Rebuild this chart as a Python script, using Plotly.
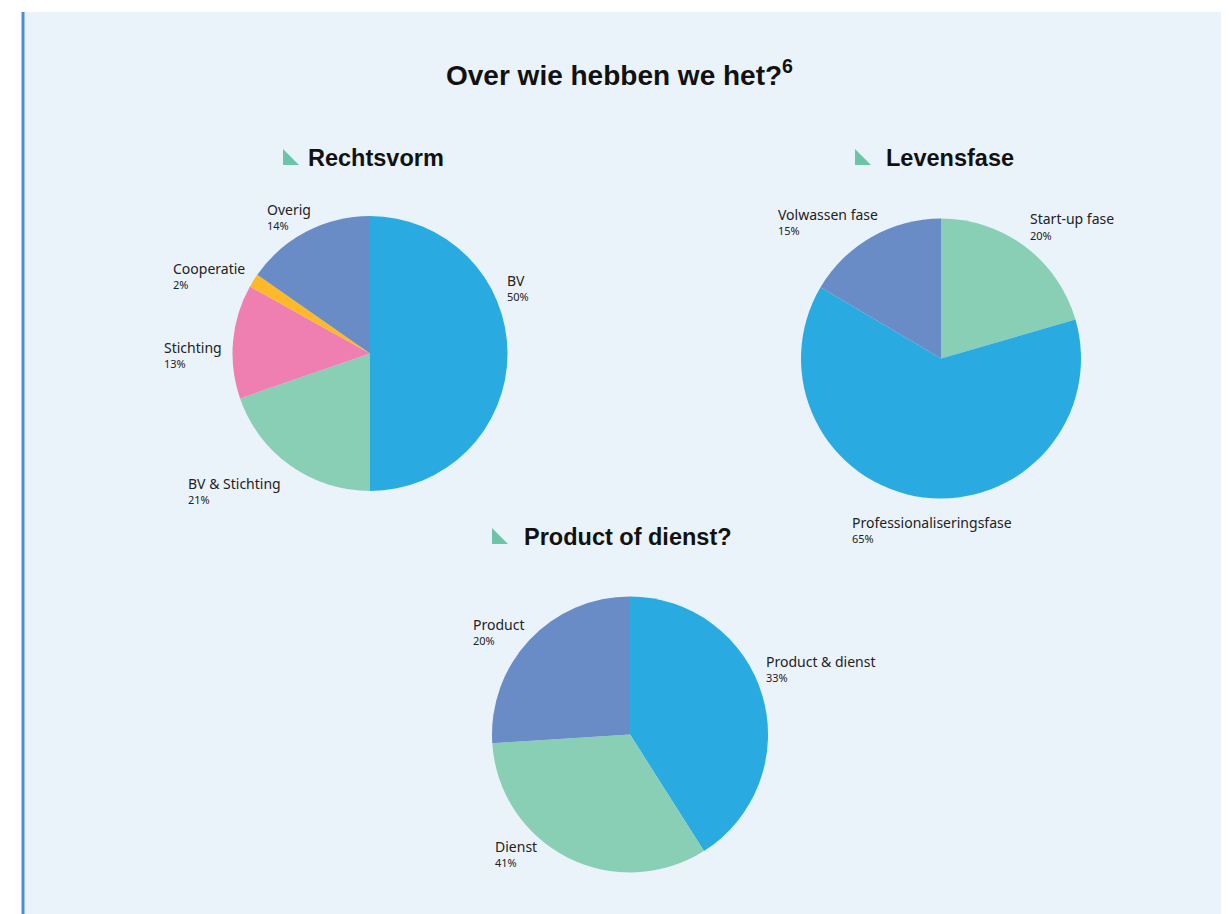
import plotly.graph_objects as go

OFF = 8  # page body margin
W, H = 1229 - OFF, 914 - OFF

# ---- data ----
rv_labels = ["BV", "BV & Stichting", "Stichting", "Cooperatie", "Overig"]
rv_values = [50, 19.7, 13.4, 1.6, 15.3]   # slice sizes as drawn
rv_pct = ["50%", "21%", "13%", "2%", "14%"]  # labels as printed

lf_labels = ["Start-up fase", "Professionaliseringsfase", "Volwassen fase"]
lf_values = [20.5, 63, 16.5]
lf_pct = ["20%", "65%", "15%"]

pd_labels = ["Product & dienst", "Dienst", "Product"]
pd_values = [41, 33, 26]
pd_pct = ["33%", "41%", "20%"]

BLUE, GREEN, PINK, YELLOW, PURPLE = "#29ABE2", "#88CFB5", "#EF7EB1", "#FDB927", "#6A8CC6"
rv_colors = [BLUE, GREEN, PINK, YELLOW, PURPLE]
lf_colors = [GREEN, BLUE, PURPLE]
pd_colors = [BLUE, GREEN, PURPLE]


def px(x):
    return (x - OFF) / W


def py(y):
    return 1 - (y - OFF) / H


def dom(cx, cy, r):
    return dict(x=[px(cx - r), px(cx + r)], y=[py(cy + r), py(cy - r)])


fig = go.Figure()
for labels, values, colors, (cx, cy, r) in [
    (rv_labels, rv_values, rv_colors, (370, 353.5, 137.5)),
    (lf_labels, lf_values, lf_colors, (941, 358.5, 140)),
    (pd_labels, pd_values, pd_colors, (630, 734.5, 138)),
]:
    fig.add_trace(go.Pie(
        labels=labels, values=values, sort=False, direction="clockwise", rotation=0,
        marker=dict(colors=colors, line=dict(width=0)), textinfo="none",
        hoverinfo="label", showlegend=False, domain=dom(cx, cy, r),
    ))

LBL_FONT = "Noto Sans"
ann = []


def label(x, y, name, pct):
    ann.append(dict(x=px(x), y=py(y), xref="paper", yref="paper", text=name, showarrow=False,
                    xanchor="left", yanchor="middle",
                    font=dict(family=LBL_FONT, size=14, color="#222222")))
    ann.append(dict(x=px(x), y=py(y + 16), xref="paper", yref="paper", text=pct, showarrow=False,
                    xanchor="left", yanchor="middle",
                    font=dict(family=LBL_FONT, size=11, color="#222222")))


rv_pos = [(505, 280), (186, 483), (162, 347), (171, 268), (265, 209)]
for (x, y), n, p in zip(rv_pos, rv_labels, rv_pct):
    label(x, y, n, p)
lf_pos = [(1028, 219), (850, 522), (776, 214)]
for (x, y), n, p in zip(lf_pos, lf_labels, lf_pct):
    label(x, y, n, p)
pd_pos = [(764, 661), (493, 846), (471, 624)]
for (x, y), n, p in zip(pd_pos, pd_labels, pd_pct):
    label(x, y, n, p)

# title
ann.append(dict(x=px(619), y=py(73), xref="paper", yref="paper",
                text="<b>Over wie hebben we het?<sup>6</sup></b>", showarrow=False,
                xanchor="center", yanchor="middle",
                font=dict(family="Liberation Sans", size=28, color="#111111")))

subtitles = [("Rechtsvorm", 306, 158, 283), ("Levensfase", 884, 158, 855), ("Product of dienst?", 522, 537, 492)]
shapes = [
    dict(type="rect", xref="paper", yref="paper", x0=px(22), x1=1, y0=0, y1=py(12),
         fillcolor="#EBF3FA", line=dict(width=0), layer="below"),
    dict(type="line", xref="paper", yref="paper", x0=px(23), x1=px(23), y0=0, y1=py(12),
         line=dict(color="#4A8FD6", width=3)),
]
for text, x, y, tx in subtitles:
    ann.append(dict(x=px(x), y=py(y), xref="paper", yref="paper", text="<b>" + text + "</b>",
                    showarrow=False, xanchor="left", yanchor="middle",
                    font=dict(family="Liberation Sans", size=23.5, color="#111111")))
    shapes.append(dict(type="path", xref="paper", yref="paper",
                       path=f"M {px(tx)},{py(y - 9)} L {px(tx)},{py(y + 7)} L {px(tx + 16)},{py(y + 7)} Z",
                       fillcolor="#6CC5A8", line=dict(width=0)))

fig.update_layout(width=W, height=H, margin=dict(l=0, r=0, t=0, b=0),
                  paper_bgcolor="white", plot_bgcolor="white",
                  annotations=ann, shapes=shapes)
fig.write_html("out.html")
